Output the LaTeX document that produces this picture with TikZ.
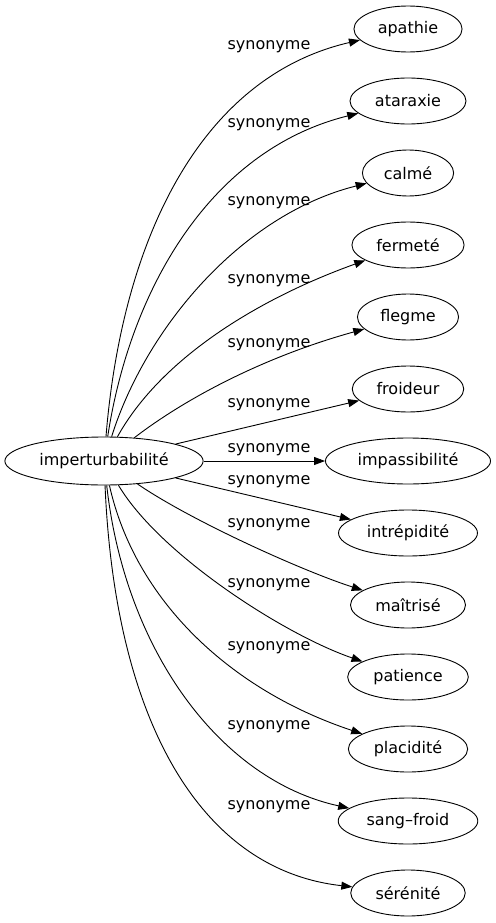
\documentclass[tikz,border=0pt]{standalone}
\usepackage{fontspec}
\setmainfont{DejaVu Sans}
\usetikzlibrary{arrows.meta,shapes.geometric}

\begin{document}
\begin{tikzpicture}[x=1pt, y=-1pt,
  font=\fontsize{16}{19}\selectfont,
  w/.style={draw, ellipse, line width=0.9pt, inner xsep=8pt, inner ysep=4pt,
            minimum height=46pt},
  rel/.style={inner sep=0pt},
  syn/.style={-{Triangle[length=11pt,width=8pt]}, line width=0.9pt}]
\useasboundingbox (0,0) rectangle (495,923);
% source
\node[w, inner xsep=5.5pt, minimum height=48pt] (src) at (104,461) {imperturbabilité};
% targets
\node[w] (apathie)   at (408,29)  {apathie};
\node[w] (ataraxie)  at (408,101) {ataraxie};
\node[w] (calme)     at (408,173) {calmé};
\node[w] (fermete)   at (408,245) {fermeté};
\node[w] (flegme)    at (408,317) {flegme};
\node[w] (froideur)  at (408,389) {froideur};
\node[w] (impass)    at (408,461) {impassibilité};
\node[w] (intrep)    at (408,533) {intrépidité};
\node[w] (maitrise)  at (408,605) {maîtrisé};
\node[w] (patience)  at (408,677) {patience};
\node[w] (placid)    at (408,749) {placidité};
\node[w] (sangfroid) at (408,821) {sang–froid};
\node[w] (serenite)  at (408,893) {sérénité};
% edges
\draw[syn] (src) .. controls (122,240) and (200,77)  .. (apathie);
\draw[syn] (src) .. controls (130,290) and (210,150) .. (ataraxie);
\draw[syn] (src) .. controls (145,330) and (240,215) .. (calme);
\draw[syn] (src) .. controls (160,360) and (255,300) .. (fermete);
\draw[syn] (src) .. controls (190,395) and (270,355) .. (flegme);
\draw[syn] (src) -- (froideur);
\draw[syn] (src) -- (impass);
\draw[syn] (src) -- (intrep);
\draw[syn] (src) .. controls (190,520) and (300,570) .. (maitrise);
\draw[syn] (src) .. controls (160,555) and (285,635) .. (patience);
\draw[syn] (src) .. controls (135,600) and (230,690) .. (placid);
\draw[syn] (src) .. controls (125,650) and (220,780) .. (sangfroid);
\draw[syn] (src) .. controls (115,720) and (200,870) .. (serenite);
% labels
\node[rel] (l1)  at (269,47)  {synonyme};
\node[rel] (l2)  at (269,125) {synonyme};
\node[rel] (l3)  at (269,203) {synonyme};
\node[rel] (l4)  at (269,281) {synonyme};
\node[rel] (l5)  at (269,345) {synonyme};
\node[rel] (l6)  at (269,405) {synonyme};
\node[rel] (l7)  at (269,450) {synonyme};
\node[rel] (l8)  at (269,482) {synonyme};
\node[rel] (l9)  at (269,525) {synonyme};
\node[rel] (l10) at (269,585) {synonyme};
\node[rel] (l11) at (269,648) {synonyme};
\node[rel] (l12) at (269,727) {synonyme};
\node[rel] (l13) at (269,807) {synonyme};
\end{tikzpicture}
\end{document}
